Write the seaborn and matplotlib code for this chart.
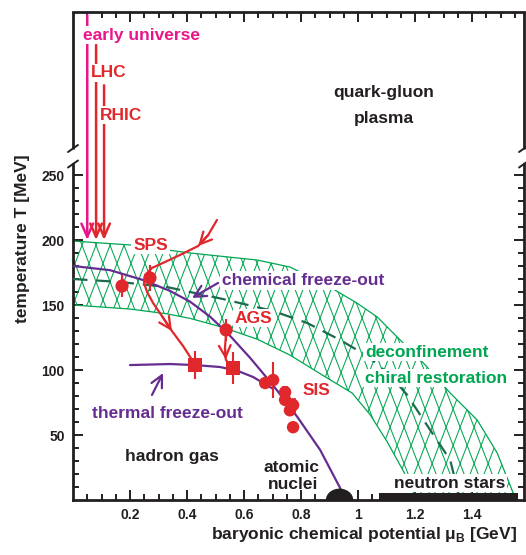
import numpy as np
import pandas as pd
import matplotlib
matplotlib.use("Agg")
import matplotlib.pyplot as plt
import seaborn as sns
from matplotlib.collections import LineCollection
from matplotlib.patches import Polygon, Ellipse, Rectangle
from matplotlib.ticker import FixedLocator, FixedFormatter

# ------------------------------------------------------------------
# data  (mu_B in GeV, T in MeV)
# ------------------------------------------------------------------
chem_mu = [0.0, 0.130, 0.246, 0.340, 0.411, 0.481, 0.551, 0.621, 0.702, 0.786, 0.867, 0.944]
chem_T = [180.0, 176.8, 169.2, 160.9, 152.5, 141.0, 126.3, 109.4, 88.2, 64.2, 38.5, 6.3]

therm_mu = [0.200, 0.340, 0.428, 0.516, 0.579, 0.632, 0.667, 0.702]
therm_T = [103.8, 104.6, 103.8, 102.3, 99.2, 94.6, 90.0, 85.5]

band_up_mu = [0.0, 0.200, 0.411, 0.646, 0.761, 0.877, 0.996, 1.067, 1.137, 1.235, 1.323, 1.418, 1.488, 1.544, 1.554]
band_up_T = [199.2, 196.2, 190.0, 184.6, 179.2, 166.9, 151.5, 140.8, 125.4, 104.0, 82.3, 61.5, 36.2, 5.4, 0.0]

band_lo_mu = [0.0, 0.200, 0.330, 0.411, 0.526, 0.646, 0.761, 0.877, 0.979, 1.042, 1.102, 1.158, 1.207]
band_lo_T = [150.0, 146.9, 143.2, 139.7, 132.8, 123.7, 111.5, 95.8, 82.3, 65.7, 44.8, 22.6, 0.0]

trans_mu = [0.0, 0.165, 0.330, 0.526, 0.702, 0.821, 0.937, 1.032, 1.112, 1.172, 1.253, 1.323, 1.358]
trans_T = [170.0, 167.7, 163.8, 154.6, 145.4, 136.2, 123.1, 110.8, 96.2, 80.8, 53.8, 30.8, 0.0]

sps_traj_mu = [0.505, 0.474, 0.439, 0.382, 0.323, 0.277, 0.253, 0.249, 0.260, 0.281, 0.312, 0.347, 0.386, 0.418]
sps_traj_T = [215.4, 203.8, 195.4, 189.2, 183.1, 178.5, 173.1, 166.9, 160.0, 151.5, 141.5, 130.0, 118.5, 107.7]

ags_traj_mu = [0.537, 0.533, 0.536, 0.548]
ags_traj_T = [128.0, 117.0, 108.0, 104.0]

chem_pts_mu = [0.172, 0.270, 0.537]
chem_pts_T = [164.6, 170.8, 130.8]
chem_pts_err = [8.5, 10.0, 8.5]

therm_pts_mu = [0.428, 0.561]
therm_pts_T = [103.8, 101.5]
therm_pts_err = [11.0, 12.0]

sis_mu = [0.674, 0.702, 0.744, 0.744, 0.772, 0.761, 0.772]
sis_T = [90.0, 92.3, 83.0, 77.0, 73.0, 69.0, 56.0]
sis_err = [0.0, 14.0, 4.0, 0.0, 5.0, 0.0, 0.0]

beam_names = ["early universe", "LHC", "RHIC"]
beam_mu = [0.050, 0.081, 0.109]
beam_top = [373.0, 350.0, 319.0]
beam_end = 200.0

nuclei_mu = 0.935
neutron_mu = [1.072, 1.562]

x_ticks = [0.2, 0.4, 0.6, 0.8, 1.0, 1.2, 1.4]
x_ticklabels = ["0.2", "0.4", "0.6", "0.8", "1", "1.2", "1.4"]
y_ticks = [50, 100, 150, 200, 250]
y_ticklabels = ["50", "100", "150", "200", "250"]

# ------------------------------------------------------------------
MAGENTA = "#e8168a"
RED = "#e0282c"
PURPLE = "#662d91"
GREEN = "#00a651"
DKGREEN = "#1d6b4e"
BLACK = "#231f20"

sns.set_theme(style="white")
plt.rcParams["font.family"] = ["Liberation Sans", "DejaVu Sans"]
plt.rcParams["font.weight"] = "bold"
plt.rcParams["mathtext.fontset"] = "custom"
plt.rcParams["mathtext.rm"] = "Liberation Sans"
plt.rcParams["mathtext.bf"] = "Liberation Sans:bold"

fig = plt.figure(figsize=(5.26, 5.55), dpi=100)
ax = fig.add_axes([73 / 526, 55 / 555, 451 / 526, 488 / 555])
ax.set_xlim(0, 1.582)
ax.set_ylim(0, 375.4)

FS = 12.5

# ---- hatched band ---------------------------------------------------
poly_xy = list(zip(band_up_mu, band_up_T)) + list(zip(band_lo_mu[::-1], band_lo_T[::-1]))
band = Polygon(poly_xy, closed=True, facecolor="none", edgecolor="none")
ax.add_patch(band)
slope = 2.6 * (285 / 1.3)          # screen slope 2.6 expressed in data units
step = 14 / 285                    # 14 px spacing
segs = []
for c in np.arange(-1.0, 2.6, step):
    xs = np.array([-0.5, 2.0])
    segs.append(np.column_stack([xs, slope * (xs - c)]))
    segs.append(np.column_stack([xs, -slope * (xs - c)]))
lc = LineCollection(segs, colors=GREEN, linewidths=0.75, zorder=1)
ax.add_collection(lc)
lc.set_clip_path(band)

sns.lineplot(x=band_up_mu, y=band_up_T, ax=ax, color=GREEN, lw=0.9, sort=False, estimator=None, zorder=2)
sns.lineplot(x=band_lo_mu, y=band_lo_T, ax=ax, color=GREEN, lw=0.9, sort=False, estimator=None, zorder=2)
sns.lineplot(x=trans_mu, y=trans_T, ax=ax, color=DKGREEN, lw=1.6, sort=False, estimator=None, zorder=3)
ax.lines[-1].set_linestyle((0, (6.5, 4)))

# ---- freeze-out curves ----------------------------------------------
sns.lineplot(x=chem_mu, y=chem_T, ax=ax, color=PURPLE, lw=1.6, sort=False, estimator=None, zorder=4)
sns.lineplot(x=therm_mu, y=therm_T, ax=ax, color=PURPLE, lw=1.6, sort=False, estimator=None, zorder=4)

# ---- trajectories ----------------------------------------------------
sns.lineplot(x=sps_traj_mu, y=sps_traj_T, ax=ax, color=RED, lw=1.6, sort=False, estimator=None, zorder=5)
sns.lineplot(x=ags_traj_mu, y=ags_traj_T, ax=ax, color=RED, lw=1.6, sort=False, estimator=None, zorder=5)
arrow_kw = dict(arrowstyle="->,head_length=0.7,head_width=0.35", lw=1.6, shrinkA=0, shrinkB=0)
for mus, Ts, i in [(sps_traj_mu, sps_traj_T, 2), (sps_traj_mu, sps_traj_T, 11), (ags_traj_mu, ags_traj_T, 2)]:
    ax.annotate("", xy=(mus[i], Ts[i]), xytext=(mus[i - 1], Ts[i - 1]),
                arrowprops=dict(color=RED, **arrow_kw), zorder=5)

# ---- beam lines ------------------------------------------------------
for name, m, top in zip(beam_names, beam_mu, beam_top):
    col = MAGENTA if name == "early universe" else RED
    ax.annotate("", xy=(m, beam_end), xytext=(m, top),
                arrowprops=dict(color=col, arrowstyle="->,head_length=0.8,head_width=0.35",
                                lw=1.8, shrinkA=0, shrinkB=0), zorder=5)

# ---- data points -----------------------------------------------------
ax.errorbar(chem_pts_mu, chem_pts_T, yerr=chem_pts_err, fmt="none", ecolor=RED, elinewidth=1.5, zorder=6)
ax.errorbar(therm_pts_mu, therm_pts_T, yerr=therm_pts_err, fmt="none", ecolor=RED, elinewidth=1.5, zorder=6)
big = [e > 10 for e in sis_err]
ax.errorbar([m for m, b in zip(sis_mu, big) if b], [t for t, b in zip(sis_T, big) if b],
            yerr=[e for e, b in zip(sis_err, big) if b], fmt="none", ecolor=RED, elinewidth=1.5, zorder=6)
ax.errorbar([m for m, b in zip(sis_mu, big) if not b], [t for t, b in zip(sis_T, big) if not b],
            yerr=[e for e, b in zip(sis_err, big) if not b], fmt="none", ecolor=RED, elinewidth=1.2,
            capsize=2.2, capthick=1.2, zorder=6)
sns.scatterplot(x=chem_pts_mu, y=chem_pts_T, ax=ax, marker="o", s=90, color=RED, edgecolor="none", zorder=7)
sns.scatterplot(x=therm_pts_mu, y=therm_pts_T, ax=ax, marker="s", s=110, color=RED, edgecolor="none", zorder=7)
sns.scatterplot(x=sis_mu, y=sis_T, ax=ax, marker="o", s=80, color=RED, edgecolor="none", zorder=7)

# ---- nuclei and neutron stars --------------------------------------
ax.add_patch(Ellipse((nuclei_mu, 0), 0.096, 17.5, facecolor=BLACK, edgecolor="none", zorder=8))
ax.add_patch(Rectangle((neutron_mu[0], 0), neutron_mu[1] - neutron_mu[0], 5.5,
                       facecolor=BLACK, edgecolor="none", zorder=8))

# ---- annotation arrows ------------------------------------------------
ax.annotate("", xy=(0.4175, 155.4), xytext=(0.509, 167.0),
            arrowprops=dict(color=PURPLE, **arrow_kw), zorder=9)
ax.annotate("", xy=(0.316, 97.7), xytext=(0.277, 80.8),
            arrowprops=dict(color=PURPLE, **arrow_kw), zorder=9)

# ---- texts ----------------------------------------------------------
wb = dict(facecolor="white", edgecolor="none", pad=1.2)
def txt(x, y, s, c, ha="center", box=False):
    ax.text(x, y, s, color=c, ha=ha, va="center", fontsize=FS, fontweight="bold",
            bbox=wb if box else None, zorder=10)

txt(0.242, 357.7, "early universe", MAGENTA, box=True)
txt(0.126, 328.5, "LHC", RED, box=True)
txt(0.168, 296.0, "RHIC", RED, box=True)
txt(1.089, 313.8, "quark-gluon", BLACK)
txt(1.092, 293.8, "plasma", BLACK)
txt(0.272, 196.0, "SPS", RED, box=True)
txt(0.523, 169.0, "chemical freeze-out", PURPLE, ha="left", box=True)
txt(0.633, 140.0, "AGS", RED, box=True)
txt(0.855, 84.6, "SIS", RED)
txt(1.025, 113.8, "deconfinement", GREEN, ha="left", box=True)
txt(1.025, 93.8, "chiral restoration", GREEN, ha="left", box=True)
txt(0.067, 66.9, "thermal freeze-out", PURPLE, ha="left")
txt(0.347, 33.8, "hadron gas", BLACK)
txt(0.768, 25.0, "atomic", BLACK)
txt(0.772, 12.3, "nuclei", BLACK)
txt(1.321, 13.0, "neutron stars", BLACK, box=True)

# ---- axes styling ---------------------------------------------------
SPW = 2.0
for sp in ax.spines.values():
    sp.set_linewidth(SPW)
    sp.set_color(BLACK)
    sp.set_visible(True)
ax.spines["left"].set_bounds(0, 258.5)
ax.spines["right"].set_bounds(0, 258.5)
y_up = (500 - 148.5) / 488
y_lo = (500 - 164) / 488
for xa in (0, 1):
    ax.plot([xa, xa], [y_up, 1], transform=ax.transAxes, color=BLACK, lw=SPW,
            clip_on=False, solid_capstyle="butt", zorder=11)
    for yc in (y_up, y_lo):
        ax.plot([xa - 0.011, xa + 0.011], [yc - 0.0072, yc + 0.0072], transform=ax.transAxes,
                color=BLACK, lw=1.4, clip_on=False, zorder=11)

ax.xaxis.set_major_locator(FixedLocator(x_ticks))
ax.xaxis.set_major_formatter(FixedFormatter(x_ticklabels))
ax.xaxis.set_minor_locator(FixedLocator([0.05 * k for k in range(1, 32) if k % 4 != 0]))
ax.yaxis.set_major_locator(FixedLocator(y_ticks))
ax.yaxis.set_major_formatter(FixedFormatter(y_ticklabels))
ax.yaxis.set_minor_locator(FixedLocator([v for v in range(10, 251, 10) if v % 50 != 0]))
ax.tick_params(which="both", direction="in", top=True, right=True, bottom=True, left=True,
               colors=BLACK, width=1.4)
ax.tick_params(which="major", length=7.5, labelsize=10, pad=6)
ax.tick_params(which="minor", length=4.2)
for lab in ax.get_xticklabels() + ax.get_yticklabels():
    lab.set_fontweight("bold")

ax.set_xlabel("baryonic chemical potential μ$_\\mathbf{B}$ [GeV]", fontsize=FS, fontweight="bold", color=BLACK)
ax.xaxis.label.set_ha("right")
ax.xaxis.set_label_coords(0.985, -0.052)
ax.set_ylabel("temperature T [MeV]", fontsize=FS, fontweight="bold", color=BLACK)
ax.yaxis.set_label_coords(-0.095, 0.535)

fig.savefig("out.png", dpi=100)
